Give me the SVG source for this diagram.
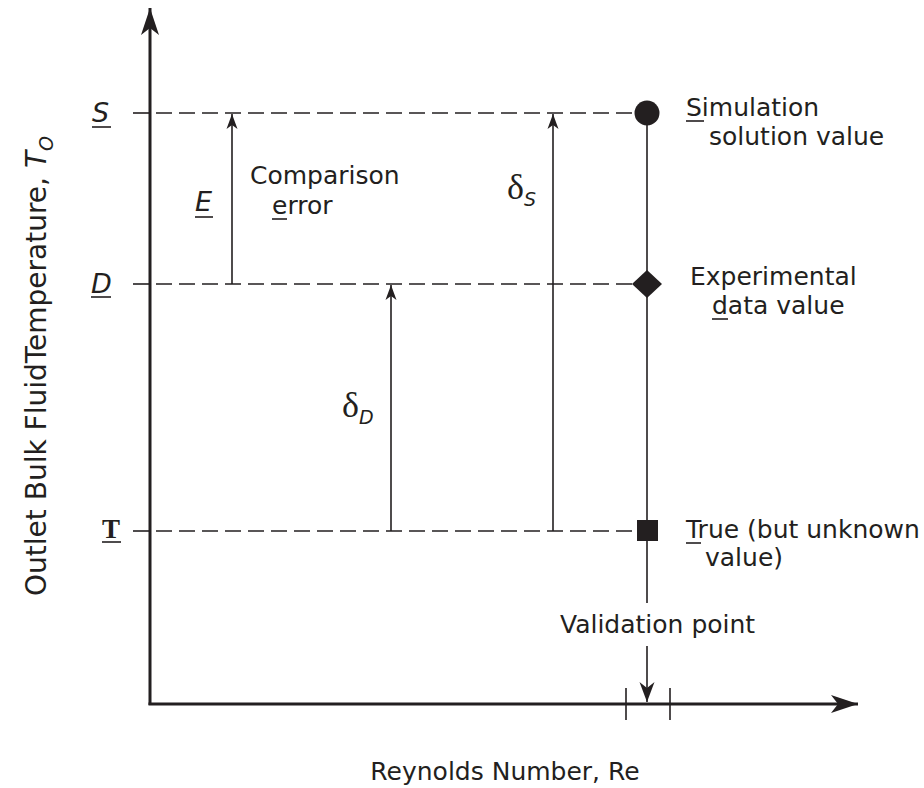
<svg xmlns="http://www.w3.org/2000/svg" width="924" height="788" viewBox="0 0 924 788">
<style>
.ax{stroke:#231f20;stroke-width:3;fill:none}
.ln{stroke:#231f20;stroke-width:1.6;fill:none}
.dash{stroke:#231f20;stroke-width:1.6;fill:none;stroke-dasharray:16 7}
.t{font-family:"DejaVu Sans","Liberation Sans",sans-serif;font-size:25px;fill:#231f20}
.it{font-style:italic}
.lbl{font-size:27px}
.sub{font-size:19px}
.sym{font-family:"Liberation Serif","DejaVu Serif",serif;fill:#231f20}
.mk{fill:#231f20}
</style>
<defs>
<marker id="axh" markerUnits="userSpaceOnUse" viewBox="-28 -10 30 20" refX="0" refY="0" markerWidth="30" markerHeight="20" orient="auto"><path d="M0,0 L-27,-9 L-20,0 L-27,9 Z" class="mk"/></marker>
<marker id="vh" markerUnits="userSpaceOnUse" viewBox="-22 -9 24 18" refX="0" refY="0" markerWidth="24" markerHeight="18" orient="auto"><path d="M0,0 L-20,-7.5 L-14,0 L-20,7.5 Z" class="mk"/></marker>
<marker id="sh" markerUnits="userSpaceOnUse" viewBox="-17 -7 19 14" refX="0" refY="0" markerWidth="19" markerHeight="14" orient="auto"><path d="M0,0 L-15,-5.5 L-11,0 L-15,5.5 Z" class="mk"/></marker>
</defs>

<g id="axes">
<line class="ax" x1="150" y1="705" x2="150" y2="8" marker-end="url(#axh)"/>
<line class="ax" x1="148.5" y1="704" x2="858" y2="704" marker-end="url(#axh)"/>
<line class="ln" x1="626" y1="688" x2="626" y2="720"/>
<line class="ln" x1="670" y1="688" x2="670" y2="720"/>
<text class="t" x="505" y="780" text-anchor="middle">Reynolds Number, Re</text>
<text class="t" style="font-size:28px" transform="translate(46,366) rotate(-90)" text-anchor="middle">Outlet Bulk FluidTemperature, <tspan class="it">T</tspan><tspan class="it sub" dy="7">O</tspan></text>
</g>

<g id="connectors">
<line class="ln" x1="133" y1="113" x2="150" y2="113"/>
<line class="dash" x1="156" y1="113" x2="636" y2="113"/>
<line class="ln" x1="133" y1="284" x2="150" y2="284"/>
<line class="dash" x1="156" y1="284" x2="633" y2="284"/>
<line class="ln" x1="133" y1="531" x2="150" y2="531"/>
<line class="dash" x1="156" y1="531" x2="637" y2="531"/>
<line class="ln" x1="647" y1="113" x2="647" y2="603" stroke-width="2"/>
<line class="ln" x1="647" y1="646" x2="647" y2="702" stroke-width="2" marker-end="url(#vh)"/>
<line class="ln" x1="232" y1="284" x2="232" y2="114" marker-end="url(#sh)"/>
<line class="ln" x1="391" y1="531" x2="391" y2="285" marker-end="url(#sh)"/>
<line class="ln" x1="553" y1="531" x2="553" y2="114" marker-end="url(#sh)"/>
</g>

<g id="label-S">
<text class="t it lbl" x="92" y="122">S</text>
<line class="ln" x1="92" y1="127" x2="111" y2="127"/>
</g>
<g id="label-D">
<text class="t it lbl" x="91" y="293">D</text>
<line class="ln" x1="91" y1="297" x2="111" y2="297"/>
</g>
<g id="label-T">
<text class="sym" x="102" y="538" style="font-size:27px;font-weight:bold">T</text>
<line class="ln" x1="102" y1="542" x2="121" y2="542"/>
</g>
<g id="label-E">
<text class="t it lbl" x="195" y="211">E</text>
<line class="ln" x1="195" y1="217" x2="213" y2="217"/>
<text class="t" x="250" y="184">Comparison</text>
<text class="t" x="272" y="214">error</text>
<line class="ln" x1="272" y1="219" x2="287" y2="219"/>
</g>
<g id="label-deltaS">
<text class="sym" x="507" y="199" style="font-size:36px">δ<tspan class="t it sub" dy="7">S</tspan></text>
</g>
<g id="label-deltaD">
<text class="sym" x="342" y="417" style="font-size:36px">δ<tspan class="t it sub" dy="7">D</tspan></text>
</g>

<g id="node-S">
<circle class="mk" cx="647" cy="113" r="12.5"/>
<text class="t" x="686" y="116">Simulation</text>
<line class="ln" x1="686" y1="121" x2="704" y2="121"/>
<text class="t" x="709" y="145">solution value</text>
</g>
<g id="node-D">
<path class="mk" d="M647,270 L662,284 L647,298 L632,284 Z"/>
<text class="t" x="690" y="285">Experimental</text>
<text class="t" x="712" y="314">data value</text>
<line class="ln" x1="712" y1="319" x2="728" y2="319"/>
</g>
<g id="node-T">
<rect class="mk" x="637" y="520" width="21" height="21"/>
<text class="t" x="686" y="538">True (but unknown</text>
<line class="ln" x1="686" y1="543" x2="701" y2="543"/>
<text class="t" x="705" y="566">value)</text>
</g>
<g id="node-V">
<text class="t" x="560" y="633">Validation point</text>
</g>
</svg>
